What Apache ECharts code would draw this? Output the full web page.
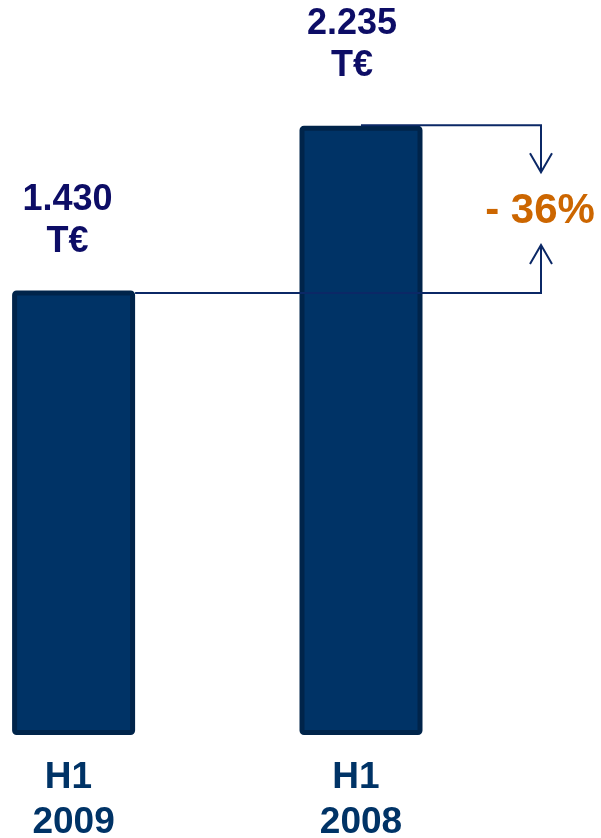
<!DOCTYPE html>
<html>
<head>
<meta charset="utf-8">
<script src="https://cdn.jsdelivr.net/npm/echarts@6/dist/echarts.min.js"></script>
<style>
html,body{margin:0;padding:0;background:#ffffff;}
#c{width:601px;height:838px;}
</style>
</head>
<body>
<div id="c"></div>
<script>
// ---- data ----
const categories = ['H1 2009', 'H1 2008'];
const values = [1430, 2235];
const unitLabel = 'T€';
const axisMin = -717;   // value-axis baseline of the (truncated) chart
const axisMax = 2235;

// ---- styles ----
const FONT = '"Liberation Sans", Arial, Helvetica, sans-serif';
const BAR_W = 118;
const BAR_FILL = '#003366';
const BAR_EDGE = '#00244a';
const VALUE_COLOR = '#0d0d66';
const CAT_COLOR = '#003366';
const LINE_COLOR = '#0b2866';
const PCT_COLOR = '#cc6600';
const LABEL_DX = [-6, -9];
const LABEL_GAP = [30, 41];

function fmt(v) { return String(v).replace(/\B(?=(\d{3})+(?!\d))/g, '.'); }

const chart = echarts.init(document.getElementById('c'));

chart.setOption({
  animation: false,
  backgroundColor: '#ffffff',
  grid: { left: 73.6, right: 240, top: 128.2, bottom: 105.5, containLabel: false, outerBoundsMode: 'none' },
  xAxis: {
    type: 'category',
    data: categories,
    boundaryGap: false,
    axisLine: { show: false },
    axisTick: { show: false },
    splitLine: { show: false },
    axisLabel: {
      interval: 0,
      margin: 23,
      fontSize: 37,
      fontWeight: 'bold',
      fontFamily: FONT,
      color: CAT_COLOR,
      lineHeight: 45,
      hideOverlap: false,
      formatter: v => v.replace(' ', ' \n')
    }
  },
  yAxis: {
    type: 'value',
    min: axisMin,
    max: axisMax,
    show: false,
    splitLine: { show: false }
  },
  series: [{
    type: 'custom',
    data: values.map((v, i) => [i, v]),
    renderItem: function (params, api) {
      const idx = params.dataIndex;
      const top = api.coord([api.value(0), api.value(1)]);
      const base = api.coord([api.value(0), axisMin]);
      return {
        type: 'group',
        children: [
          {
            type: 'rect',
            shape: { x: top[0] - BAR_W / 2, y: top[1], width: BAR_W, height: base[1] - top[1], r: 2 },
            style: { fill: BAR_FILL, stroke: BAR_EDGE, lineWidth: 5 }
          },
          {
            type: 'text',
            x: top[0] + LABEL_DX[idx],
            y: top[1] - LABEL_GAP[idx],
            style: {
              text: fmt(values[idx]) + '\n' + unitLabel,
              fill: VALUE_COLOR,
              fontSize: 36,
              fontWeight: 'bold',
              fontFamily: FONT,
              lineHeight: 42,
              align: 'center',
              verticalAlign: 'bottom',
              textAlign: 'center',
              textVerticalAlign: 'bottom'
            }
          }
        ]
      };
    }
  }]
});

// ---- comparison bracket, built from the bars' pixel positions ----
const p1 = chart.convertToPixel({ seriesIndex: 0 }, [0, values[0]]);
const p2 = chart.convertToPixel({ seriesIndex: 0 }, [1, values[1]]);
const BX = p2[0] + 180;
const yLow = p1[1];
const yHigh = p2[1] - 3;
const tipDown = yHigh + 47;
const tipUp = yLow - 48;
const pct = Math.round((values[0] - values[1]) / values[1] * 100);
const lineStyle = { stroke: LINE_COLOR, lineWidth: 2, fill: null };

chart.setOption({
  graphic: [
    { type: 'polyline', shape: { points: [[p1[0] + BAR_W / 2 + 2.5, yLow], [BX, yLow], [BX, tipUp]] }, style: lineStyle, z: 100 },
    { type: 'polyline', shape: { points: [[BX - 11, tipUp + 19], [BX, tipUp], [BX + 11, tipUp + 19]] }, style: lineStyle, z: 100 },
    { type: 'polyline', shape: { points: [[p2[0], yHigh], [BX, yHigh], [BX, tipDown]] }, style: lineStyle, z: 100 },
    { type: 'polyline', shape: { points: [[BX - 11, tipDown - 19], [BX, tipDown], [BX + 11, tipDown - 19]] }, style: lineStyle, z: 100 },
    {
      type: 'text', x: BX - 1, y: (tipDown + tipUp) / 2 + 2.5, z: 100,
      style: {
        text: (pct < 0 ? '- ' : '+ ') + Math.abs(pct) + '%',
        fill: PCT_COLOR, fontSize: 42, fontWeight: 'bold', fontFamily: FONT,
        align: 'center', verticalAlign: 'middle'
      }
    }
  ]
});
</script>
</body>
</html>
